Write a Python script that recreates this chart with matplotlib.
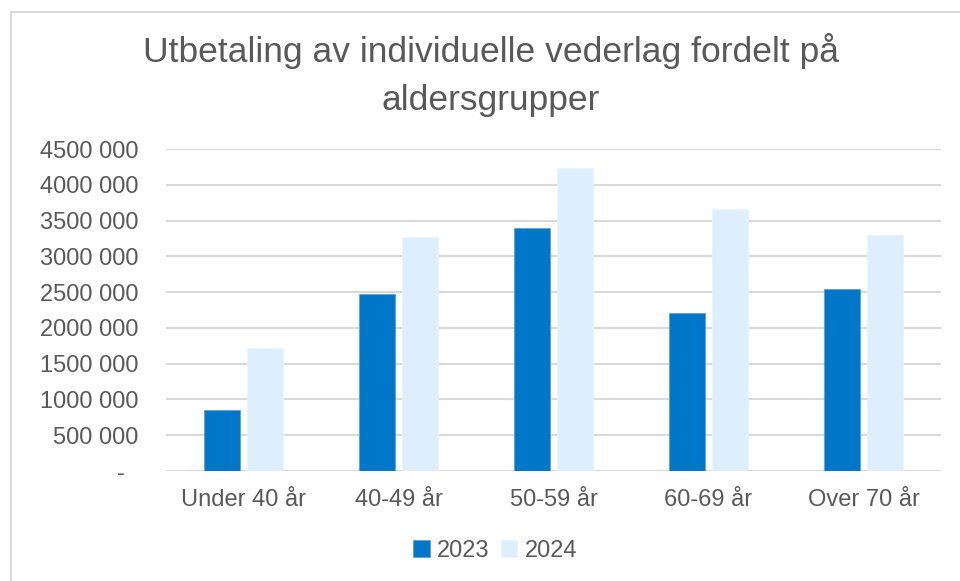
import matplotlib
matplotlib.use('Agg')
import matplotlib.pyplot as plt
import numpy as np
from matplotlib.lines import Line2D

title = 'Utbetaling av individuelle vederlag fordelt på\naldersgrupper'
categories = ['Under 40 år', '40-49 år', '50-59 år', '60-69 år', 'Over 70 år']
series_names = ['2023', '2024']
values_2023 = [850000, 2480000, 3400000, 2215000, 2540000]
values_2024 = [1715000, 3270000, 4235000, 3665000, 3305000]
y_ticks = [0, 500000, 1000000, 1500000, 2000000, 2500000, 3000000, 3500000, 4000000, 4500000]

color_2023 = '#0077C8'
color_2024 = '#DDEFFC'
text_color = '#595959'
grid_color = '#D9D9D9'


def fmt(v):
    if v == 0:
        return '-  '
    return '{} {:03d}'.format(v // 1000, v % 1000)


plt.rcParams['font.family'] = ['Liberation Sans', 'DejaVu Sans']

dpi = 100
fig = plt.figure(figsize=(960 / dpi, 581 / dpi), dpi=dpi)
ax = fig.add_axes([166 / 960, 110 / 581, 775 / 960, 322 / 581])

x = np.arange(len(categories))
width = 0.235
ax.bar(x - 0.14, values_2023, width, color=color_2023, edgecolor='#5A9BD5',
       linewidth=0.5, label=series_names[0], zorder=3)
ax.bar(x + 0.14, values_2024, width, color=color_2024, edgecolor='#EAF4FD',
       linewidth=0.5, label=series_names[1], zorder=3)

ax.set_xlim(-0.5, len(categories) - 0.5)
ax.set_ylim(0, 4500000)
ax.set_yticks(y_ticks)
ax.set_yticklabels([fmt(v) for v in y_ticks])
ax.set_xticks(x)
ax.set_xticklabels(categories)
ax.tick_params(axis='y', length=0, pad=20, labelsize=17, labelcolor=text_color)
ax.tick_params(axis='x', length=0, pad=13, labelsize=17, labelcolor=text_color)
ax.grid(True, axis='y', color=grid_color, linewidth=1.5, zorder=0)
for s in ax.spines.values():
    s.set_visible(False)

fig.text(491 / 960, 1 - 75 / 581, title, ha='center', va='center',
         fontsize=25.5, color=text_color, linespacing=1.6)

fig.legend(loc='center', bbox_to_anchor=(495 / 960, 30 / 581), ncol=2,
           frameon=False, fontsize=17, labelcolor=text_color,
           handlelength=0.7, handleheight=0.7, handletextpad=0.3,
           columnspacing=0.5)

# chart area border
fig.add_artist(Line2D([11 / 960, 11 / 960], [0, 1 - 12 / 581],
                      color='#D9D9D9', linewidth=1.5, transform=fig.transFigure))
fig.add_artist(Line2D([11 / 960, 1], [1 - 12 / 581, 1 - 12 / 581],
                      color='#D9D9D9', linewidth=1.5, transform=fig.transFigure))

fig.savefig('out.png', dpi=dpi)
